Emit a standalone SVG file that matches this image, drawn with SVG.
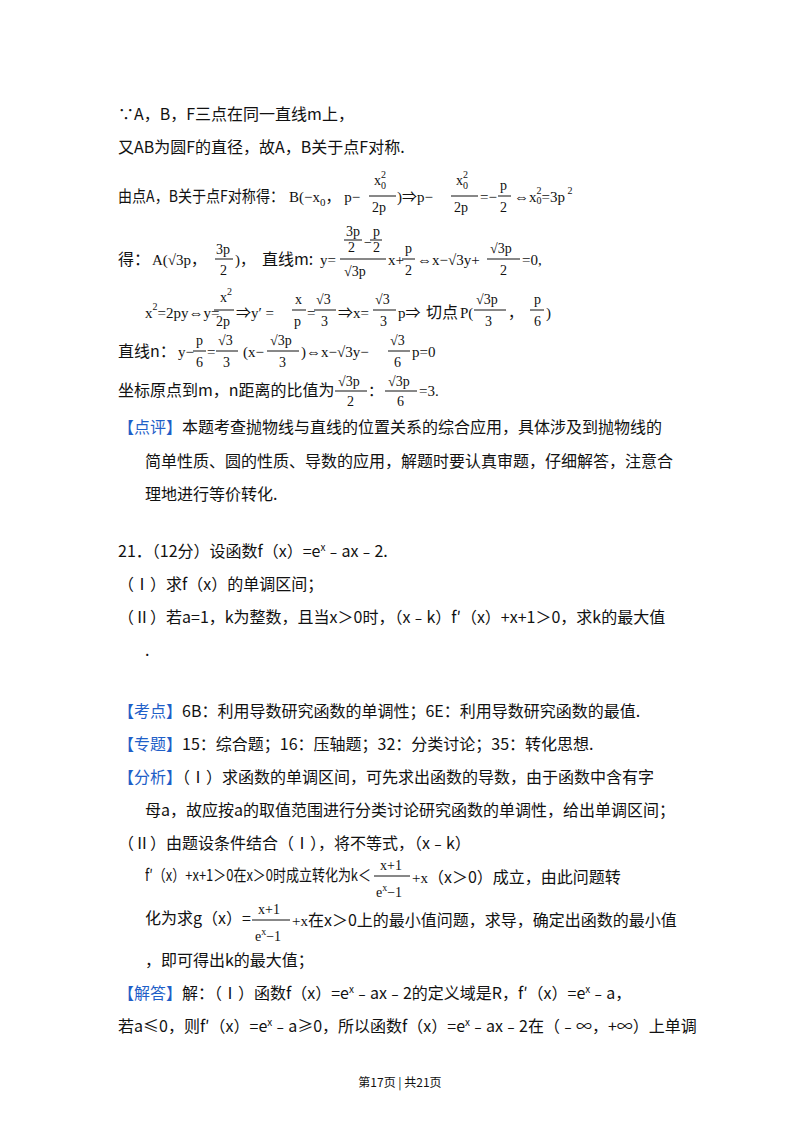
<svg xmlns="http://www.w3.org/2000/svg" width="800" height="1132" viewBox="0 0 800 1132">
<style>
text{font-family:"Noto Sans CJK SC","Noto Sans",sans-serif;font-size:16px;fill:#111}
.m{font-family:"Liberation Serif","Noto Sans CJK SC",serif;font-size:15px}
.s{font-family:"Liberation Serif",serif;font-size:14px}
.b{fill:#1f5fc8}
.ft{font-size:12px}
line{stroke:#111;stroke-width:1}
</style>
<rect width="800" height="1132" fill="#fff"/>
<text x="118" y="120">∵A，B，F三点在同一直线m上，</text>
<text x="118" y="153">又AB为圆F的直径，故A，B关于点F对称.</text>
<text x="118" y="202" textLength="166" lengthAdjust="spacingAndGlyphs">由点A，B关于点F对称得：</text>
<g transform="translate(4,0)">
<text class="m" x="285" y="202">B(−x<tspan font-size="11" dy="4">0</tspan><tspan dy="-4">，  p−</tspan></text>
<text class="s" x="370" y="185">x<tspan font-size="10" dy="-7">2</tspan><tspan font-size="10" dx="-5" dy="11">0</tspan></text>
<line x1="365" y1="196" x2="392" y2="196"/><text class="s" x="368" y="212">2p</text>
<text class="m" x="393" y="202">)⇒p−</text>
<line x1="447" y1="196" x2="474" y2="196"/>
<text class="s" x="452" y="185">x<tspan font-size="10" dy="-7">2</tspan><tspan font-size="10" dx="-5" dy="11">0</tspan></text>
<text class="s" x="450" y="212">2p</text>
<text class="m" x="476" y="202">=−</text><line x1="494" y1="196" x2="507" y2="196"/>
<text class="s" x="496" y="190">p</text><text class="s" x="496" y="212">2</text>
<text class="m" x="510" y="202">⇔x<tspan font-size="10" dy="-8">2</tspan><tspan font-size="10" dx="-5" dy="10">0</tspan><tspan dy="-2">=3p</tspan><tspan font-size="10" dy="-8"> 2</tspan></text>
</g>

<text x="118" y="265">得：</text>
<text class="m" x="152" y="265">A(√3p，</text>
<line x1="215" y1="259" x2="233" y2="259"/><text class="s" x="216" y="254">3p</text><text class="s" x="220" y="275">2</text>
<text class="m" x="235" y="265">)，</text>
<text x="262" y="265">直线m:</text>
<text class="m" x="320" y="265">y=</text>
<text class="s" x="346" y="236">3p</text><line x1="344" y1="240" x2="362" y2="240"/><text class="s" x="348" y="252">2</text>
<text class="s" x="364" y="247">−</text>
<text class="s" x="373" y="236">p</text><line x1="370" y1="240" x2="382" y2="240"/><text class="s" x="373" y="252">2</text>
<line x1="340" y1="259" x2="386" y2="259"/><text class="s" x="344" y="276">√3p</text>
<text class="m" x="388" y="265">x+</text>
<text class="s" x="405" y="253">p</text><line x1="402" y1="259" x2="415" y2="259"/><text class="s" x="405" y="275">2</text>
<text class="m" x="417" y="265">⇔x−√3y+</text>
<text class="s" x="490" y="253">√3p</text><line x1="487" y1="259" x2="520" y2="259"/><text class="s" x="500" y="275">2</text>
<text class="m" x="522" y="265">=0,</text>

<text class="m" x="145" y="318">x<tspan font-size="10" dy="-8">2</tspan><tspan dy="8">=2py⇔y=</tspan></text>
<g transform="translate(8,0)">
<text class="s" x="212" y="302">x<tspan font-size="10" dy="-7">2</tspan></text><line x1="206" y1="310" x2="226" y2="310"/><text class="s" x="208" y="326">2p</text>
<text class="m" x="228" y="318">⇒y′  =</text>
<text class="s" x="287" y="304">x</text><line x1="284" y1="310" x2="298" y2="310"/><text class="s" x="286" y="326">p</text>
<text class="m" x="299" y="318">=</text>
<text class="s" x="308" y="304">√3</text><line x1="306" y1="310" x2="328" y2="310"/><text class="s" x="313" y="326">3</text>
<text class="m" x="330" y="318">⇒x=</text>
<text class="s" x="367" y="304">√3</text><line x1="365" y1="310" x2="388" y2="310"/><text class="s" x="372" y="326">3</text>
<text class="m" x="390" y="318">p⇒</text><text x="418" y="318">切点</text>
<text class="m" x="452" y="318">P(</text>
<text class="s" x="468" y="304">√3p</text><line x1="466" y1="310" x2="498" y2="310"/><text class="s" x="477" y="326">3</text>
<text class="m" x="500" y="318">，</text>
<text class="s" x="526" y="304">p</text><line x1="522" y1="310" x2="536" y2="310"/><text class="s" x="526" y="326">6</text>
<text class="m" x="538" y="318">)</text>
</g>

<text x="118" y="357">直线n：</text>
<text class="m" x="178" y="357">y−</text>
<text class="s" x="196" y="345">p</text><line x1="193" y1="351" x2="206" y2="351"/><text class="s" x="196" y="367">6</text>
<text class="m" x="207" y="357">=</text>
<text class="s" x="218" y="345">√3</text><line x1="216" y1="351" x2="238" y2="351"/><text class="s" x="223" y="367">3</text>
<text class="m" x="243" y="357">(x−</text>
<text class="s" x="270" y="345">√3p</text><line x1="267" y1="351" x2="299" y2="351"/><text class="s" x="279" y="367">3</text>
<text class="m" x="301" y="357">)⇔x−√3y−</text>
<text class="s" x="390" y="345">√3</text><line x1="388" y1="351" x2="410" y2="351"/><text class="s" x="394" y="367">6</text>
<text class="m" x="412" y="357">p=0</text>

<text x="118" y="396">坐标原点到m，n距离的比值为</text>
<text class="s" x="338" y="386">√3p</text><line x1="335" y1="391" x2="367" y2="391"/><text class="s" x="347" y="406">2</text>
<text class="m" x="368" y="396">：</text>
<text class="s" x="388" y="386">√3p</text><line x1="385" y1="391" x2="417" y2="391"/><text class="s" x="397" y="406">6</text>
<text class="m" x="419" y="396">=3.</text>

<text x="118" y="433"><tspan class="b">【点评】</tspan>本题考查抛物线与直线的位置关系的综合应用，具体涉及到抛物线的</text>
<text x="145" y="467">简单性质、圆的性质、导数的应用，解题时要认真审题，仔细解答，注意合</text>
<text x="145" y="500">理地进行等价转化.</text>

<text x="118" y="557">21．（12分）设函数f（x）=e<tspan font-size="10" dy="-6">x</tspan><tspan dy="6">﹣ax﹣2.</tspan></text>
<text x="118" y="590">（Ⅰ）求f（x）的单调区间；</text>
<text x="118" y="623">（Ⅱ）若a=1，k为整数，且当x＞0时，（x﹣k）f′（x）+x+1＞0，求k的最大值</text>
<text x="145" y="656">.</text>

<text x="118" y="717"><tspan class="b">【考点】</tspan>6B：利用导数研究函数的单调性；6E：利用导数研究函数的最值.</text>
<text x="118" y="750"><tspan class="b">【专题】</tspan>15：综合题；16：压轴题；32：分类讨论；35：转化思想.</text>
<text x="118" y="783"><tspan class="b">【分析】</tspan>（Ⅰ）求函数的单调区间，可先求出函数的导数，由于函数中含有字</text>
<text x="145" y="816">母a，故应按a的取值范围进行分类讨论研究函数的单调性，给出单调区间；</text>
<text x="118" y="849">（Ⅱ）由题设条件结合（Ⅰ），将不等式，（x﹣k）</text>
<text x="145" y="881" textLength="226" lengthAdjust="spacingAndGlyphs">f′（x）+x+1＞0在x＞0时成立转化为k＜</text>
<text class="s" x="380" y="870">x+1</text><line x1="374" y1="876" x2="410" y2="876"/>
<text class="s" x="376" y="897">e<tspan font-size="10" dy="-6">x</tspan><tspan dy="6">−1</tspan></text>
<text x="412" y="883"><tspan class="m">+x</tspan>（x＞0）成立，由此问题转</text>
<text x="145" y="924">化为求g（x）=</text>
<text class="s" x="258" y="914">x+1</text><line x1="252" y1="920" x2="290" y2="920"/>
<text class="s" x="255" y="941">e<tspan font-size="10" dy="-6">x</tspan><tspan dy="6">−1</tspan></text>
<text x="292" y="926"><tspan class="m">+x</tspan>在x＞0上的最小值问题，求导，确定出函数的最小值</text>
<text x="145" y="966">，即可得出k的最大值；</text>
<text x="118" y="999"><tspan class="b">【解答】</tspan>解：（Ⅰ）函数f（x）=e<tspan font-size="10" dy="-6">x</tspan><tspan dy="6">﹣ax﹣2的定义域是R，f′（x）=e</tspan><tspan font-size="10" dy="-6">x</tspan><tspan dy="6">﹣a，</tspan></text>
<text x="118" y="1032">若a≤0，则f′（x）=e<tspan font-size="10" dy="-6">x</tspan><tspan dy="6">﹣a≥0，所以函数f（x）=e</tspan><tspan font-size="10" dy="-6">x</tspan><tspan dy="6">﹣ax﹣2在（﹣∞，+∞）上单调</tspan></text>
<text class="ft" x="400" y="1087" text-anchor="middle">第17页 | 共21页</text>
</svg>
